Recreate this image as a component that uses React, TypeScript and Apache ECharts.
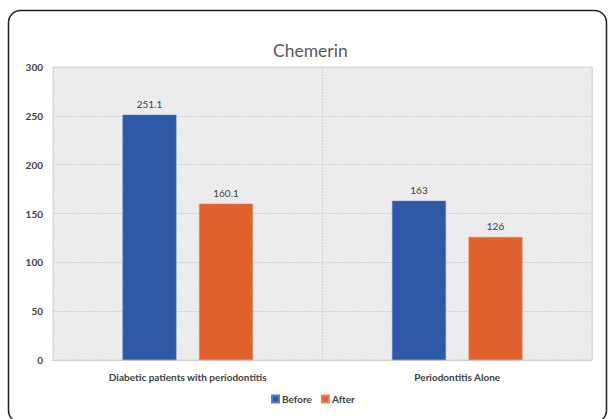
import React, { useEffect, useRef } from "react";
import * as echarts from "echarts";

const categories = ["Diabetic patients with periodontitis", "Periodontitis Alone"];
const beforeValues = [251.1, 163];
const afterValues = [160.1, 126];
const seriesNames = ["Before", "After"];
const yTicks = { min: 0, max: 300, interval: 50 };

const FONT = "Lato, 'Open Sans', sans-serif";

// Fine diagonal hatch used as the plot-area fill
function makeHatch(): HTMLCanvasElement {
  const c = document.createElement("canvas");
  c.width = 3;
  c.height = 3;
  const ctx = c.getContext("2d")!;
  ctx.fillStyle = "#f2f2f2";
  ctx.fillRect(0, 0, 3, 3);
  ctx.fillStyle = "#e0e0e0";
  for (let i = 0; i < 3; i++) {
    ctx.fillRect(i, 2 - i, 1, 1);
  }
  return c;
}

export default function App() {
  const ref = useRef<HTMLDivElement>(null);

  useEffect(() => {
    if (!ref.current) return;
    const chart = echarts.init(ref.current, null, { renderer: "svg" });
    const hatch = makeHatch();
    chart.setOption({
      animation: false,
      backgroundColor: "#ffffff",
      title: {
        text: "Chemerin",
        left: 268,
        top: 36,
        textStyle: { fontFamily: FONT, fontSize: 17.5, fontWeight: "normal", color: "#595959" },
      },
      legend: {
        data: seriesNames,
        left: 266,
        top: 389,
        itemWidth: 7,
        itemHeight: 7,
        itemGap: 9,
        icon: "rect",
        textStyle: { fontFamily: FONT, fontSize: 10, fontWeight: "bold", color: "#404040", padding: [0, 0, 0, -2] },
      },
      grid: {
        left: 53,
        right: 16,
        top: 67,
        bottom: 59,
        show: true,
        backgroundColor: { image: hatch, repeat: "repeat" },
        borderColor: "#d9d9d9",
        borderWidth: 1,
      },
      xAxis: {
        type: "category",
        data: categories,
        axisTick: { show: false },
        axisLine: { lineStyle: { color: "#d0d0d0" } },
        axisLabel: { fontFamily: FONT, fontSize: 10, fontWeight: "bold", color: "#404040", margin: 12 },
        splitLine: { show: true, lineStyle: { color: "#d9d9d9" } },
      },
      yAxis: {
        type: "value",
        min: yTicks.min,
        max: yTicks.max,
        interval: yTicks.interval,
        axisLine: { show: false },
        axisTick: { show: false },
        axisLabel: { fontFamily: FONT, fontSize: 10, fontWeight: "bold", color: "#404040", margin: 10 },
        splitLine: { lineStyle: { color: "#d9d9d9" } },
      },
      series: [
        {
          name: seriesNames[0],
          type: "bar",
          data: beforeValues,
          barWidth: "20%",
          barGap: "42%",
          itemStyle: { color: "#2e59a6", borderColor: "#5a7fc0", borderWidth: 0.5 },
          label: { show: true, position: "top", distance: 6, fontFamily: FONT, fontSize: 10, color: "#404040" },
        },
        {
          name: seriesNames[1],
          type: "bar",
          data: afterValues,
          barWidth: "20%",
          itemStyle: { color: "#df612d", borderColor: "#e8845a", borderWidth: 0.5 },
          label: { show: true, position: "top", distance: 6, fontFamily: FONT, fontSize: 10, color: "#404040" },
        },
      ],
      graphic: [
        {
          type: "rect",
          shape: { x: 8.5, y: 10.5, width: 598, height: 412, r: 12 },
          style: { fill: "none", stroke: "#1f1f1f", lineWidth: 1.5 },
          silent: true,
        },
      ],
    });
    return () => chart.dispose();
  }, []);

  return (
    <div
      ref={ref}
      style={{ position: "fixed", left: 0, top: 0, width: 608, height: 419 }}
    />
  );
}
